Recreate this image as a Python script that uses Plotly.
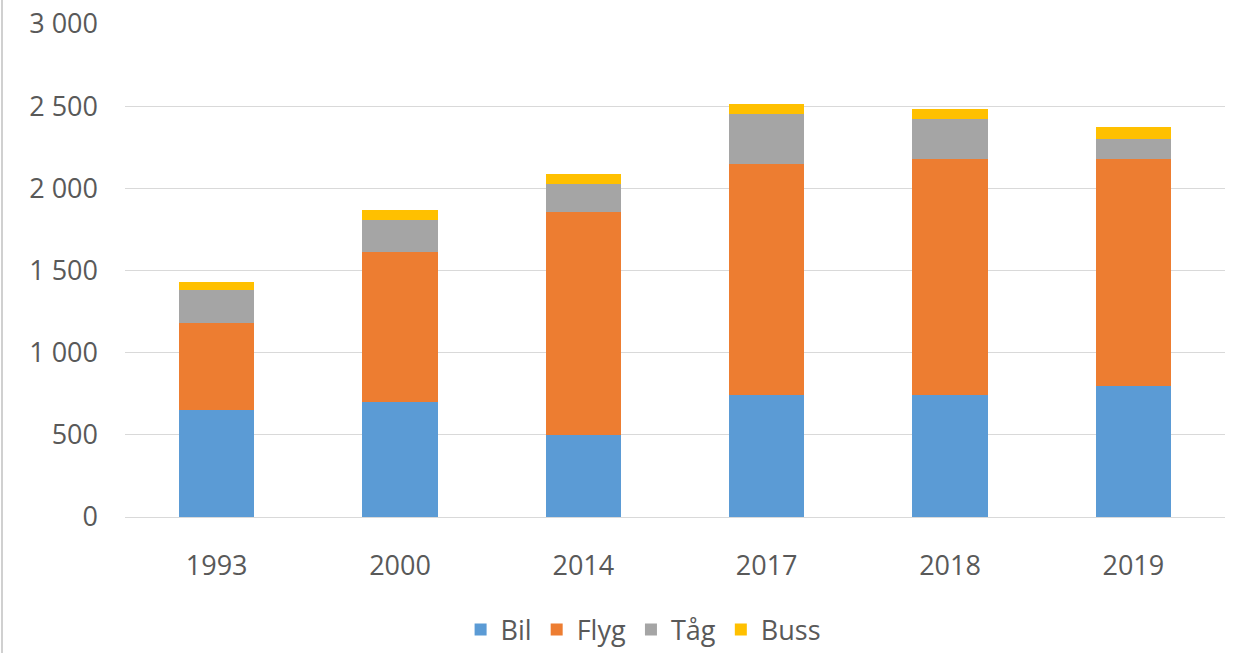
import plotly.graph_objects as go

years = ["1993", "2000", "2014", "2017", "2018", "2019"]
bil = [650, 700, 500, 745, 745, 800]
flyg = [528, 913, 1356, 1405, 1436, 1380]
tag = [206, 193, 173, 305, 243, 121]
buss = [47, 61, 61, 60, 61, 71]

series = [("Bil", bil, "#5B9BD5"), ("Flyg", flyg, "#ED7D31"),
          ("Tåg", tag, "#A5A5A5"), ("Buss", buss, "#FFC000")]

fig = go.Figure()
for name, vals, col in series:
    fig.add_trace(go.Bar(x=years, y=vals, name=name, marker_color=col,
                         marker_line_width=0))

W, H = 1243, 653
ml, mr, mt, mb = 125, 18, 24, 136
ph = H - mt - mb
fig.update_layout(
    width=W, height=H, barmode="stack", bargap=0.59,
    separators=", ",
    plot_bgcolor="white", paper_bgcolor="white",
    margin=dict(l=ml, r=mr, t=mt, b=mb, autoexpand=False),
    font=dict(family="Open Sans", size=27, color="#595959"),
    xaxis=dict(type="category", showgrid=False, showline=True, automargin=False,
               linecolor="#d9d9d9", linewidth=1, ticks="", ticklabelstandoff=25),
    yaxis=dict(range=[0, 3000], dtick=500, tickformat=",d", showgrid=True,
               automargin=False,
               gridcolor="#d9d9d9", gridwidth=1, zeroline=False,
               ticks="", ticklabelstandoff=26),
    legend=dict(orientation="h", x=0.471, xanchor="center", y=-(630 - 517) / ph,
                yanchor="middle", font=dict(size=27, color="#595959"),
                itemwidth=30, traceorder="normal"),
    shapes=[dict(type="line", xref="paper", yref="paper",
                 x0=-(ml - 2) / (W - ml - mr), x1=-(ml - 2) / (W - ml - mr),
                 y0=-mb / ph, y1=1 + mt / ph,
                 line=dict(color="#d0d0d0", width=2))],
)
fig.write_html("out.html")
